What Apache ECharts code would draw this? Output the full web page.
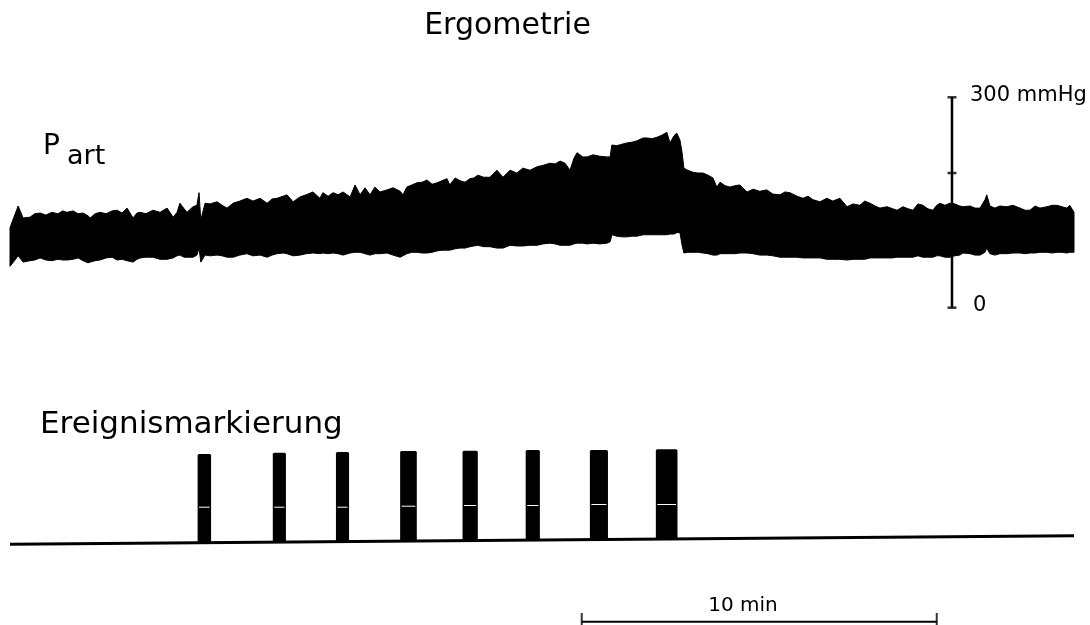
<!DOCTYPE html>
<html>
<head>
<meta charset="utf-8">
<script src="https://cdn.jsdelivr.net/npm/echarts@6/dist/echarts.min.js"></script>
<style>
html,body{margin:0;padding:0;background:#fff;}
#chart{width:1090px;height:625px;}
</style>
</head>
<body>
<div id="chart"></div>
<script>
// ---- Data (time in minutes, pressure in mmHg) ----
const times = [0.00,0.08,0.23,0.37,0.56,0.70,0.85,1.01,1.18,1.35,1.49,1.61,1.78,1.92,2.06,2.20,2.26,2.40,2.54,2.71,2.88,3.02,3.16,3.30,3.47,3.58,3.67,3.83,4.03,4.23,4.43,4.60,4.71,4.79,4.91,4.99,5.16,5.27,5.33,5.38,5.50,5.64,5.84,5.98,6.12,6.29,6.48,6.68,6.85,7.05,7.25,7.39,7.53,7.70,7.81,7.98,8.18,8.35,8.54,8.74,8.82,8.97,9.11,9.25,9.39,9.59,9.73,9.87,10.01,10.15,10.29,10.43,10.63,10.80,11.00,11.08,11.19,11.33,11.47,11.62,11.76,11.90,12.04,12.18,12.32,12.40,12.55,12.69,12.83,12.97,13.08,13.19,13.36,13.53,13.73,13.90,14.10,14.29,14.46,14.66,14.86,15.03,15.22,15.37,15.51,15.65,15.79,15.90,15.99,16.15,16.27,16.44,16.63,16.83,16.92,16.97,17.11,17.25,17.40,17.54,17.68,17.85,17.96,18.10,18.24,18.38,18.52,18.61,18.72,18.80,18.89,18.95,19.00,19.11,19.26,19.40,19.54,19.68,19.82,19.93,20.02,20.16,20.30,20.44,20.58,20.78,20.95,21.14,21.34,21.51,21.71,21.85,21.99,22.19,22.36,22.50,22.64,22.84,23.03,23.20,23.40,23.60,23.77,23.96,24.10,24.25,24.39,24.53,24.73,24.89,25.01,25.18,25.32,25.46,25.60,25.74,25.88,26.02,26.13,26.22,26.36,26.50,26.64,26.78,26.87,27.07,27.21,27.35,27.49,27.54,27.63,27.77,27.91,28.11,28.28,28.48,28.62,28.76,28.90,29.04,29.24,29.38,29.52,29.66,29.80,29.88,30.00];
const systolic = [114,125,145,128,129,134,135,132,136,134,138,136,138,134,135,131,128,134,136,134,138,139,135,142,128,135,136,134,139,136,142,129,136,149,141,136,144,146,164,125,149,148,151,146,142,149,152,156,152,156,149,155,156,159,161,151,158,161,165,156,164,159,164,161,165,158,175,161,171,161,172,165,168,171,166,161,172,175,178,179,182,176,178,181,184,175,185,181,179,184,185,189,186,186,196,186,196,192,199,196,201,203,206,205,209,206,196,213,221,215,215,218,216,215,215,232,231,233,235,236,238,242,242,241,243,246,250,235,245,249,239,221,199,196,193,192,192,189,185,172,179,174,172,174,175,165,169,166,168,162,161,165,164,159,156,159,154,151,156,152,156,144,148,146,152,149,145,142,144,141,139,144,141,139,148,146,141,139,146,149,146,149,148,145,144,145,142,142,154,161,145,142,145,144,146,142,139,139,145,142,144,146,146,144,142,146,136];
const diastolic = [59,64,74,65,67,68,71,68,67,69,68,68,69,71,67,64,65,67,68,71,72,68,69,67,65,69,71,72,72,69,69,71,74,75,72,72,72,75,85,65,75,74,75,74,72,72,75,77,74,75,72,75,77,78,77,74,75,77,78,77,78,77,78,77,75,78,79,79,77,75,77,77,78,75,72,74,77,79,79,78,78,79,81,82,82,82,84,85,85,87,88,89,87,87,85,85,89,88,88,89,89,91,92,91,89,89,89,91,92,92,91,92,91,92,94,104,102,101,101,102,102,104,104,104,104,104,104,105,105,107,107,89,78,79,79,79,78,77,75,75,77,77,77,77,78,78,77,75,75,74,72,72,72,72,71,71,71,71,69,69,69,68,69,69,69,71,71,71,71,71,72,72,72,72,74,72,72,72,74,74,72,72,74,75,78,77,75,75,79,85,77,75,77,77,78,78,77,78,78,79,79,78,79,79,78,79,79];

// pressure calibration bar
const scaleBarTime = 26.56;
const scaleTicks = [0, 192, 300];

// event marker channel (arbitrary units)
const eventStarts  = [5.29, 7.41, 9.19, 11.00, 12.76, 14.54, 16.35, 18.21];
const eventEnds    = [5.67, 7.78, 9.56, 11.47, 13.19, 14.94, 16.86, 18.82];
const eventBottoms = [81.3, 81.9, 82.4, 82.9, 83.4, 83.9, 84.5, 85.0];
const eventTops    = [171.0, 172.3, 173.0, 174.0, 174.3, 175.0, 175.0, 175.7];
const eventMarks   = [118.3, 118.3, 118.3, 119.3, 120.0, 120.0, 121.0, 121.0];
const baselineTimes  = [0, 30.0];
const baselineLevels = [80.7, 89.3];

// time scale bar (10 min)
const timeBarTimes = [16.12, 26.13];
const timeBarLevel = 3.3;
const timeBarTickLevel = 6;

// ---- Chart ----
const chart = echarts.init(document.getElementById('chart'), null, {renderer: 'canvas'});
const FONT = '"DejaVu Sans", sans-serif';

const option = {
  backgroundColor: '#fff',
  animation: false,
  grid: [
    {left: 10, top: 97.3, width: 1064, height: 210.4},
    {left: 10, top: 440, width: 1064, height: 185}
  ],
  xAxis: [
    {type: 'value', gridIndex: 0, min: 0, max: 30, show: false},
    {type: 'value', gridIndex: 1, min: 0, max: 30, show: false}
  ],
  yAxis: [
    {type: 'value', gridIndex: 0, min: 0, max: 300, show: false},
    {type: 'value', gridIndex: 1, min: 0, max: 185, show: false}
  ],
  series: [
    {
      name: 'Part', type: 'custom', xAxisIndex: 0, yAxisIndex: 0, silent: true, z: 3,
      encode: {x: 0, y: 1},
      data: [[times[0], diastolic[0]]],
      renderItem: function (params, api) {
        const upper = times.map((t, i) => api.coord([t, systolic[i]]));
        const lower = times.map((t, i) => api.coord([t, diastolic[i]])).reverse();
        return {
          type: 'polygon',
          shape: {points: upper.concat(lower)},
          style: {fill: '#000', stroke: '#000', lineWidth: 1, lineJoin: 'miter'}
        };
      }
    },
    {
      name: 'scaleBar', type: 'line', xAxisIndex: 0, yAxisIndex: 0,
      symbol: 'none', silent: true, z: 5, clip: false,
      lineStyle: {color: '#000', width: 2.5},
      data: [[scaleBarTime, scaleTicks[0]], [scaleBarTime, scaleTicks[scaleTicks.length - 1]]]
    },
    {
      name: 'scaleTicks', type: 'scatter', xAxisIndex: 0, yAxisIndex: 0,
      symbol: 'rect', symbolSize: [9, 2.5], silent: true, z: 6, clip: false,
      itemStyle: {color: '#000'},
      data: scaleTicks.map(v => [scaleBarTime, v])
    },
    {
      name: 'baseline', type: 'line', xAxisIndex: 1, yAxisIndex: 1,
      symbol: 'none', silent: true,
      lineStyle: {color: '#000', width: 3},
      data: baselineTimes.map((t, i) => [t, baselineLevels[i]])
    },
    {
      name: 'events', type: 'custom', xAxisIndex: 1, yAxisIndex: 1, silent: true, z: 4,
      encode: {x: [0, 1], y: [2, 3]},
      data: eventStarts.map((t, i) => [t, eventEnds[i], eventBottoms[i], eventTops[i], eventMarks[i]]),
      renderItem: function (params, api) {
        const pTop = api.coord([api.value(0), api.value(3)]);
        const pBot = api.coord([api.value(1), api.value(2)]);
        const pMark = api.coord([api.value(0), api.value(4)]);
        const w = pBot[0] - pTop[0];
        return {
          type: 'group',
          children: [
            {type: 'rect', shape: {x: pTop[0], y: pTop[1], width: w, height: pBot[1] - pTop[1], r: 1.5}, style: {fill: '#000'}},
            {type: 'rect', shape: {x: pTop[0] + 1.5, y: pMark[1], width: w - 3, height: 1}, style: {fill: '#fff'}}
          ]
        };
      }
    },
    {
      name: 'timeBar', type: 'line', xAxisIndex: 1, yAxisIndex: 1,
      symbol: 'none', silent: true, clip: false,
      lineStyle: {color: '#000', width: 2},
      data: timeBarTimes.map(t => [t, timeBarLevel])
    },
    {
      name: 'timeBarTicks', type: 'scatter', xAxisIndex: 1, yAxisIndex: 1,
      symbol: 'rect', symbolSize: [2, 12], silent: true, clip: false,
      itemStyle: {color: '#000'},
      data: timeBarTimes.map(t => [t, timeBarTickLevel])
    }
  ],
  graphic: [
    {type: 'text', style: {text: 'Ergometrie', x: 507.5, y: 26, align: 'center', verticalAlign: 'middle', font: '30px ' + FONT, fill: '#000'}},
    {type: 'text', style: {text: 'P', x: 43, y: 147, align: 'left', verticalAlign: 'middle', font: '28px ' + FONT, fill: '#000'}},
    {type: 'text', style: {text: 'art', x: 67, y: 157.3, align: 'left', verticalAlign: 'middle', font: '27px ' + FONT, fill: '#000'}},
    {type: 'text', style: {text: 'Ereignismarkierung', x: 40, y: 425, align: 'left', verticalAlign: 'middle', font: '31px ' + FONT, fill: '#000'}},
    {type: 'text', style: {text: '300 mmHg', x: 970, y: 95.5, align: 'left', verticalAlign: 'middle', font: '21px ' + FONT, fill: '#000'}},
    {type: 'text', style: {text: '0', x: 973, y: 305.5, align: 'left', verticalAlign: 'middle', font: '21px ' + FONT, fill: '#000'}},
    {type: 'text', style: {text: '10 min', x: 743, y: 606, align: 'center', verticalAlign: 'middle', font: '20px ' + FONT, fill: '#000'}}
  ]
};
chart.setOption(option);
</script>
</body>
</html>
